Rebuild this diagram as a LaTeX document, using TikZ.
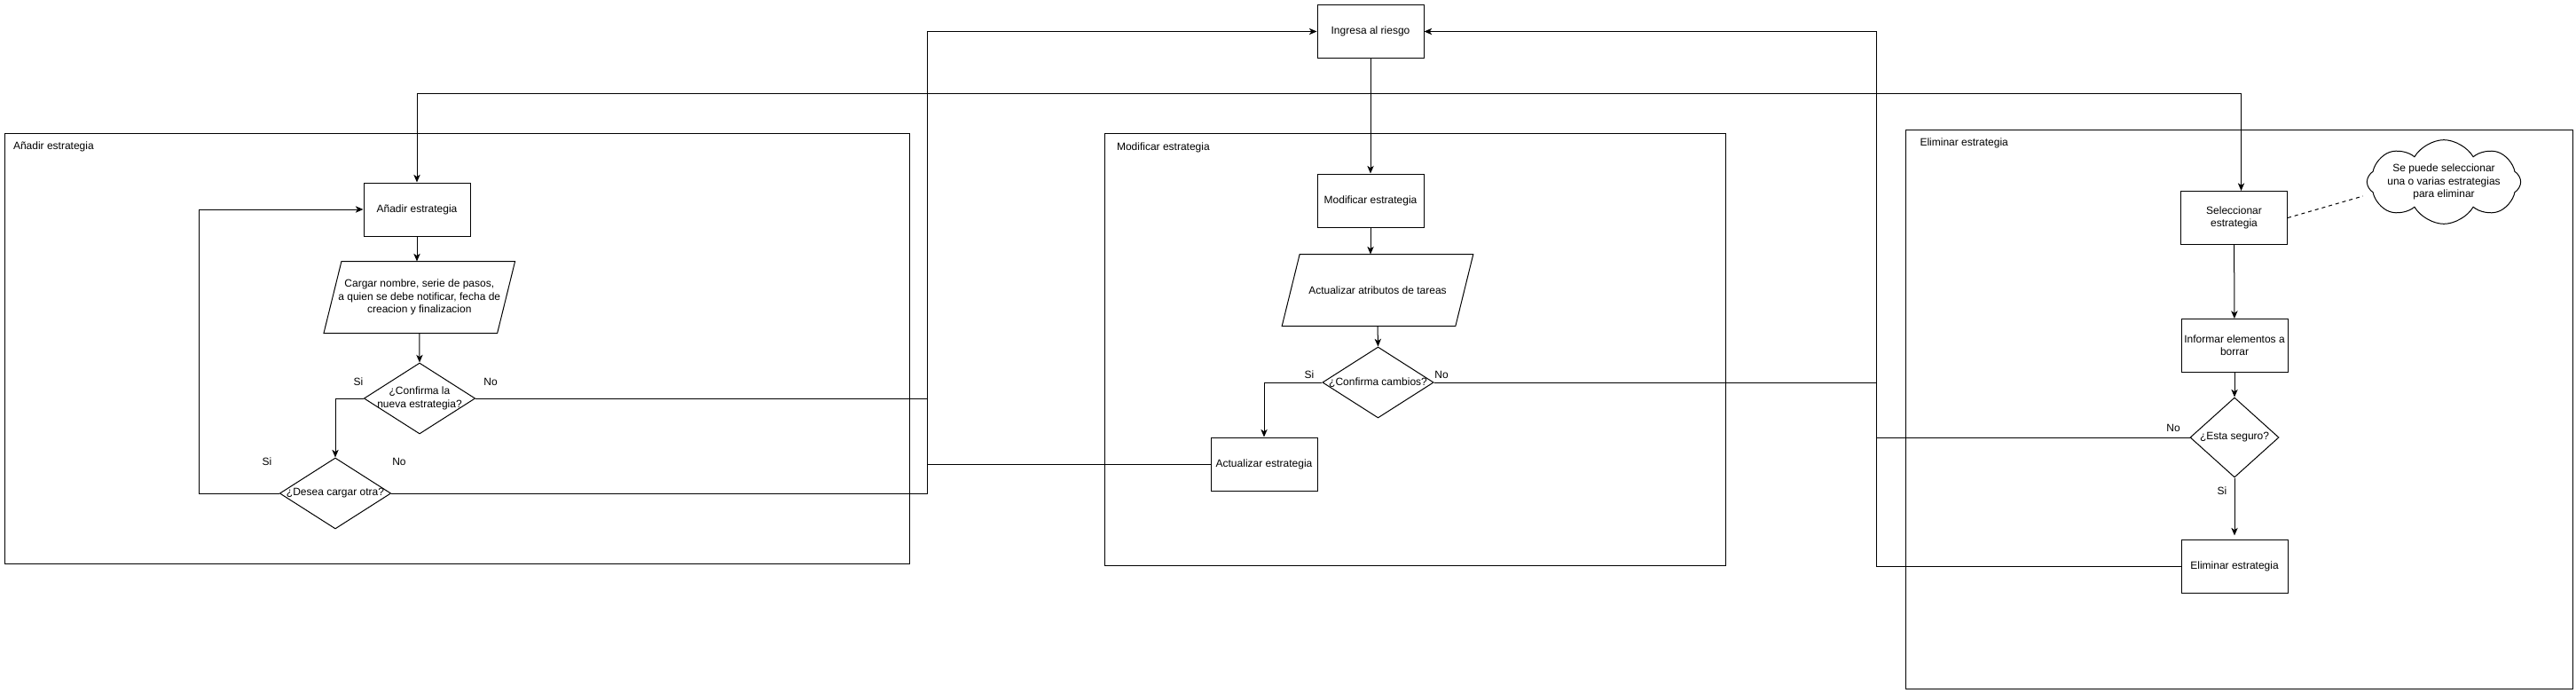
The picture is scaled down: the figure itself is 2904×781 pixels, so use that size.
\documentclass[tikz,border=0pt]{standalone}
\usepackage{fontspec}
\setmainfont{Liberation Sans}
\usetikzlibrary{shapes.geometric,shapes.symbols,arrows.meta}

\tikzset{every picture/.style={line width=0.75pt}}
\tikzset{
  caja/.style={draw, rectangle, minimum width=90pt, minimum height=45pt, align=center, inner sep=2pt},
  decision/.style={draw, diamond, inner sep=0pt, minimum width=94pt, minimum height=60pt},
  datos/.style={rectangle, inner sep=0pt, minimum width=161pt, minimum height=60pt, align=center},
  titulo/.style={anchor=west, inner sep=0pt},
  etq/.style={inner sep=0pt},
  flecha/.style={-{Stealth[length=6.5pt,width=5.5pt,inset=1.8pt]}},
}

\begin{document}
\begin{tikzpicture}[x=0.75pt,y=0.75pt,yscale=-1,xscale=1, font=\fontsize{9}{10.8}\selectfont]
		\useasboundingbox (0,0) rectangle (2904,781);

		% marcos
		\draw (5.5,150.5) rectangle (1025.5,635.5);
		\node[titulo] (tA) at (14.5,165) {Añadir estrategia};
		\draw (1245,151) rectangle (1945,637);
		\node[titulo] (tM) at (1258.5,166) {Modificar estrategia};
		\draw (2148,146.5) rectangle (2900,776);
		\node[titulo] (tE) at (2164,161) {Eliminar estrategia};

		\node[caja] (ingresa) at (1545,35.5) {Ingresa al riesgo};

		% anadir
		\node[caja] (anadir) at (470,236) {Añadir estrategia};
		\node[datos] (cargar) at (472.8,335) {Cargar nombre, serie de pasos,\\a quien se debe notificar, fecha de\\creacion y finalizacion};
		\draw ([xshift=15pt]cargar.north west) -- (cargar.north east) -- ([xshift=-15pt]cargar.south east) -- (cargar.south west) -- cycle;
		\node[decision, label={[align=center]center:{¿Confirma la\\nueva estrategia?}}] (confirma) at (473,449) {};
		\node[decision, label=center:{¿Desea cargar otra?}] (otra) at (378,556) {};

		% modificar
		\node[caja] (modificar) at (1545,226) {Modificar estrategia};
		\node[datos] (atributos) at (1553,327) {Actualizar atributos de tareas};
		\draw ([xshift=15pt]atributos.north west) -- (atributos.north east) -- ([xshift=-15pt]atributos.south east) -- (atributos.south west) -- cycle;
		\node[decision, label=center:{¿Confirma cambios?}] (cambios) at (1553.5,431) {};
		\node[caja] (actualizar) at (1425,523) {Actualizar estrategia};

		% eliminar
		\node[caja] (seleccionar) at (2518.5,245.5) {Seleccionar\\estrategia};
		\node[caja] (informar) at (2519,389.5) {Informar elementos a\\borrar};
		\node[decision, minimum width=75pt, minimum height=67.5pt, label=center:{¿Esta seguro?}] (seguro) at (2519,493) {};
		\node[caja] (eliminar) at (2519,638) {Eliminar estrategia};
		\node[draw, cloud, cloud puffs=8, cloud puff arc=120, aspect=1.8, inner sep=0pt, minimum width=130pt, minimum height=71pt, label={[align=center]center:{Se puede seleccionar\\una o varias estrategias\\para eliminar}}] (nube) at (2755,205) {};

		\node[etq] (siA) at (404,430) {Si};
		\node[etq] (noA) at (553,430) {No};
		\node[etq] (siB) at (301,520) {Si};
		\node[etq] (noB) at (450,520) {No};
		\node[etq] (siM) at (1476,422) {Si};
		\node[etq] (noM) at (1625,422) {No};
		\node[etq] (noE) at (2450,482) {No};
		\node[etq] (siE) at (2505,553) {Si};

		\coordinate (bus) at (1545,105.5);
		\coordinate (retA) at (1045.5,556);
		\coordinate (retE) at (2115.5,638);

		\draw[flecha] (ingresa) -- (modificar);
		\draw[flecha] (bus) -| (anadir);
		\draw[flecha] (bus) -| ([xshift=6pt]seleccionar.north);

		\draw[flecha] (anadir) -- (anadir |- cargar.north);
		\draw[flecha] (cargar.south) -- (confirma.north);
		\draw[flecha] (confirma.west) -| (otra.north);
		\draw[flecha] (otra.west) -- ++(-90,0) |- (anadir.west);
		\draw (confirma.east) -- (confirma.east -| retA);
		\draw (actualizar.west) -- (actualizar.west -| retA);
		\draw[flecha] (otra.east) -- (retA) |- (ingresa.west);

		\draw[flecha] (modificar) -- (modificar |- atributos.north);
		\draw[flecha] (atributos.south) -- (cambios.north);
		\draw[flecha] (cambios.west) -| (actualizar.north);
		\draw (cambios.east) -- (cambios.east -| retE);

		\draw[flecha] (seleccionar) -- (informar);
		\draw[flecha] (informar) -- (seguro);
		\draw[flecha, shorten >=3pt] (seguro) -- (eliminar);
		\draw (seguro.west) -- (seguro.west -| retE);
		\draw[flecha] (eliminar.west) -- (retE) |- (ingresa.east);
		\draw[dash pattern=on 3pt off 3pt] (seleccionar.east) -- ([shift={(-4,16)}]nube.west);

\end{tikzpicture}
\end{document}
